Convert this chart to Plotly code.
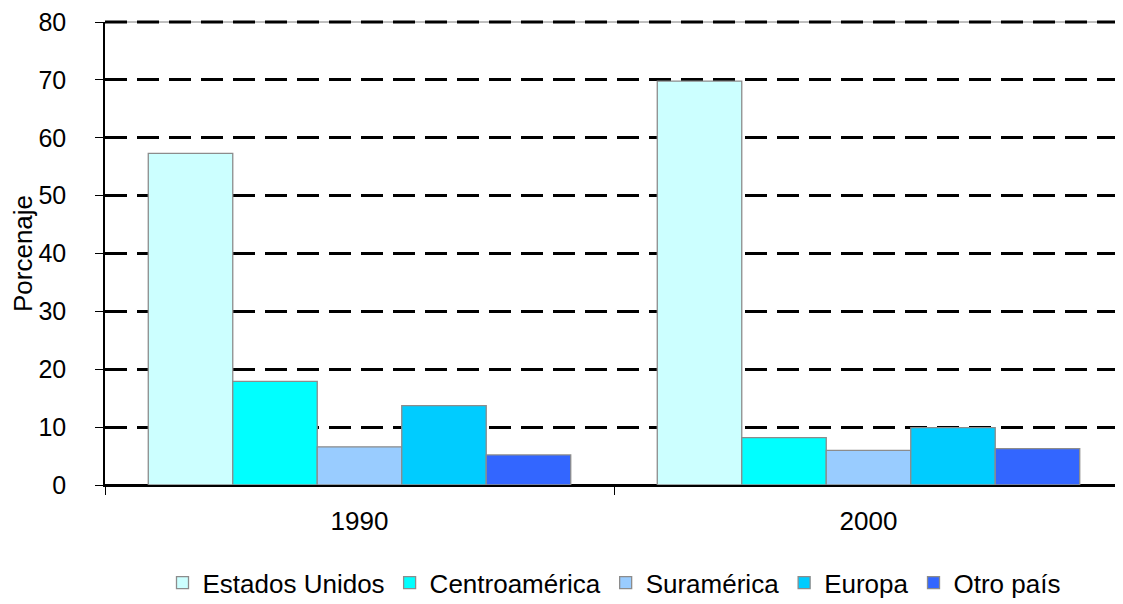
import plotly.graph_objects as go

years = ["1990", "2000"]
series = ["Estados Unidos", "Centroamérica", "Suramérica", "Europa", "Otro país"]
estados_unidos = [57.3, 69.8]
centroamerica = [17.9, 8.2]
suramerica = [6.6, 6.0]
europa = [13.7, 9.9]
otro_pais = [5.2, 6.3]
values = [estados_unidos, centroamerica, suramerica, europa, otro_pais]
colors = ["#CCFFFF", "#00FFFF", "#99CCFF", "#00CCFF", "#3366FF"]
y_ticks = [0, 10, 20, 30, 40, 50, 60, 70, 80]
y_max = 80

fig = go.Figure()
for name, vals, col in zip(series, values, colors):
    fig.add_trace(go.Bar(
        x=years, y=vals, name=name,
        marker=dict(color=col, line=dict(color="#8c8c8c", width=1.3)),
    ))

# the page body adds an 8px offset, so the figure is 8px smaller each way
font_family = "Liberation Sans, Arial, sans-serif"
fig.update_layout(
    width=1115, height=596,
    margin=dict(l=97, r=0, t=14, b=119, autoexpand=False),
    paper_bgcolor="white", plot_bgcolor="white",
    barmode="group", bargap=0.17, bargroupgap=0,
    font=dict(family=font_family, size=26, color="black"),
    showlegend=True,
    legend=dict(orientation="h", x=0.5, xanchor="center", y=-0.211, yanchor="middle",
                font=dict(size=26), itemwidth=30, tracegroupgap=0,
                bgcolor="rgba(0,0,0,0)"),
    xaxis=dict(
        automargin=False,
        showline=True, linecolor="black", linewidth=1.5,
        ticks="outside", ticklen=8, tickcolor="black", tickwidth=1,
        tickson="boundaries", showgrid=False,
        tickfont=dict(size=26), ticklabelstandoff=12,
    ),
    yaxis=dict(
        automargin=False,
        range=[0, y_max], tickvals=y_ticks,
        showline=True, linecolor="black", linewidth=1.5,
        ticks="outside", ticklen=8, tickcolor="black", tickwidth=1,
        showgrid=True, gridcolor="black", gridwidth=3, griddash="22px,10px",
        zeroline=True, zerolinecolor="black", zerolinewidth=2,
        title=dict(text="Porcenaje", font=dict(size=26), standoff=8),
        tickfont=dict(size=25), ticklabelstandoff=24, ticklabeloverflow="allow",
    ),
    shapes=[
        dict(type="line", xref="paper", yref="paper", x0=0, x1=1, y0=1, y1=1,
             line=dict(color="#808080", width=1), layer="below"),
        dict(type="line", xref="paper", yref="paper", x0=0, x1=1, y0=1, y1=1,
             line=dict(color="black", width=3, dash="22px,10px"), layer="below"),
    ],
)

fig.write_html("out.html")
